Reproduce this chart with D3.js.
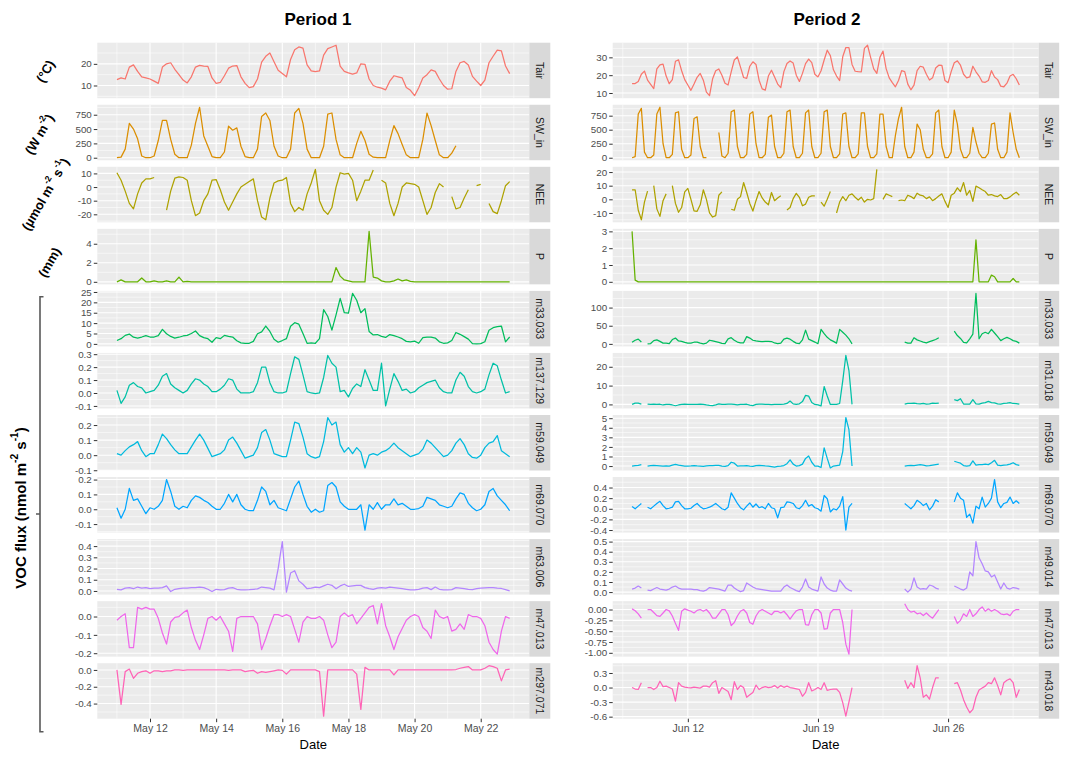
<!DOCTYPE html>
<html>
<head>
<meta charset="utf-8">
<script src="https://cdn.jsdelivr.net/npm/d3@7"></script>
<style>
  body { margin: 0; background: #fff; }
</style>
</head>
<body>
<div id="chart"></div>
<script>
const FONT = '"Liberation Sans", Arial, Helvetica, sans-serif';

// ---------------- data ----------------
// Period 1: 3-hourly values starting 11 May 00:00
const p1Vars = ["Tair", "SW_in", "NEE", "P", "m33.033", "m137.129", "m59.049", "m69.070", "m63.006", "m47.013", "m297.071"];

const p1Tair = [
  12.7, 13.5, 13.0, 18.5, 19.5, 16.5, 14.0, 13.5,
  13.0, 12.0, 11.0, 18.5, 20.0, 20.5, 17.5, 15.0,
  12.5, 11.2, 14.0, 18.5, 19.3, 19.0, 18.8, 13.5,
  11.0, 11.4, 14.5, 18.0, 19.0, 19.2, 14.0, 11.0,
  9.0, 9.5, 13.0, 20.8, 23.5, 25.0, 21.0, 17.0,
  15.5, 14.0, 22.0, 26.5, 27.8, 27.3, 19.5, 16.8,
  16.4, 16.7, 24.0, 27.0, 27.8, 28.6, 19.0, 16.5,
  15.8, 15.3, 15.8, 20.0, 19.8, 13.0, 10.0, 9.2,
  8.8, 8.0, 12.0, 14.5, 14.0, 13.5, 9.1, 7.8,
  5.3, 9.0, 13.5, 15.0, 17.2, 16.5, 13.0, 10.0,
  8.3, 8.5, 16.5, 20.5, 21.1, 19.5, 14.2, 12.0,
  10.0, 12.5, 20.5, 23.5, 26.3, 26.0, 19.0, 15.5
];
const p1SW = [
  0, 10, 150, 600, 500, 330, 30, 0,
  0, 30, 300, 650, 650, 320, 60, 0,
  0, 0, 220, 600, 880, 380, 200, 20,
  0, 0, 100, 550, 480, 520, 200, 20,
  0, 0, 150, 720, 780, 650, 200, 30,
  0, 0, 150, 780, 860, 600, 150, 0,
  0, 0, 200, 760, 780, 320, 50, 0,
  0, 0, 250, 460, 300, 60, 10, 0,
  0, 0, 300, 560, 420, 230, 50, 0,
  0, 0, 320, 780, 560, 300, 50, 0,
  0, 80, 210, null, null, null, null, null,
  null, null, null, null, null, null, null, null
];
const p1NEE = [
  10.5, 5, -3, -12, -16, -5, 3, 6,
  6, 7, null, null, -17, -3, 6.5, 7.5,
  7, 5, -10, -21, -19, -10, -5, 5,
  5.5, -2, -11, -17, -11, -5, 0, 2,
  4, 6, -10, -22, -24, -8, 3, 4.5,
  5, 7, -12, -18, -15, -17, -5, 3,
  13, -10, -17, -20, -15, 0, 10.5, 9.5,
  10, 5, -10, -3, 5, 5, 12.5, null,
  5, 3, -12, -21, -12, 0, 3, 2.5,
  2, 0, -10, -20, -15, -4, 2.5, 0,
  null, -7, -16, -15, -8, -2, null, 1,
  2, null, -12, -18, -19.5, -10, 1, 4
];
const p1P = [
  0, 0.2, 0, 0, 0, 0, 0.4, 0,
  0, 0.1, 0, 0, 0.1, 0, 0, 0.5,
  0, 0.05, 0, 0, 0, 0, 0, 0,
  0, 0, 0, 0, 0, 0, 0, 0,
  0, 0, 0, 0, 0, 0, 0, 0,
  0, 0, 0, 0, 0, 0, 0, 0,
  0, 0, 0, 0, 0, 1.5, 0.6, 0.2,
  0.1, 0, 0, 0, 0, 5.3, 0.5, 0.4,
  0.1, 0, 0, 0.1, 0.3, 0.1, 0.2, 0.05,
  0, 0, 0, 0, 0, 0, 0, 0,
  0, 0, 0, 0, 0, 0, 0, 0,
  0, 0, 0, 0, 0, 0, 0, 0
];
const p1m33 = [
  1.6, 2.5, 4.1, 4.7, 3.2, 2.8, 3.3, 4.0,
  3.3, 3.3, 4.0, 7.0, 4.9, 3.6, 2.8, 3.2,
  3.8, 4.1, 5.0, 6.2, 4.0, 3.0, 2.5, 0.8,
  3.0, 2.5, 4.1, 3.6, 3.3, 1.5, 0.5, 0.3,
  0.3, 1.2, 4.9, 5.8, 8.6, 6.0, 2.2, 0.8,
  1.6, 2.5, 8.5, 10.2, 9.5, 5.0, 0.3, 0.5,
  0.3, 2.5, 16.5, 13.2, 6.6, 14.0, 21.9, 15.0,
  14.8, 24.3, 21.0, 15.0, 17.0, 6.0, 4.3, 4.5,
  3.6, 3.1, 4.5, 4.0, 3.3, 2.5, 1.2, 1.0,
  1.3, 0.3, 3.0, 3.3, 3.3, 2.8, 1.0, 0.3,
  0.5, 1.6, 5.5, 4.6, 3.5, 2.3, 0.1, 0,
  0.1, 1.0, 6.6, 7.8, 8.3, 8.6, 1.0, 3.3
];
const p1m137 = [
  0.02, -0.08, -0.03, 0.06, 0.08, 0.05, 0.04, 0.0,
  0.01, 0.02, 0.06, 0.13, 0.15, 0.07, 0.04, 0.02,
  0.0, 0.02, 0.07, 0.11, 0.10, 0.07, 0.05, 0.01,
  0.01, 0.03, 0.06, 0.11, 0.10, 0.03, 0.0, 0.0,
  0.0, 0.01, 0.08, 0.20, 0.20, 0.08, 0.01, 0.0,
  0.0, 0.01, 0.15, 0.28, 0.26, 0.14, 0.01, 0.0,
  -0.005, 0.0, 0.12, 0.29, 0.23, 0.20, 0.01, 0.02,
  -0.03, 0.035, 0.07, 0.05, 0.18, 0.1, 0.02, 0.02,
  0.23, -0.1, 0.03, 0.15, 0.09, 0.02, 0.03, 0.0,
  0.01, 0.04, 0.06, 0.08, 0.09, 0.1, 0.04, 0.01,
  0.0, 0.0, 0.1, 0.16, 0.13, 0.05, 0.01, 0.0,
  0.01, 0.03, 0.14, 0.23, 0.21, 0.1, 0.0, 0.01
];
const p1m59 = [
  0.01, 0.0, 0.03, 0.055, 0.07, 0.09, 0.03, -0.01,
  0.01, 0.01, 0.07, 0.14, 0.11, 0.07, 0.035, 0.01,
  0.01, 0.01, 0.055, 0.1, 0.14, 0.1, 0.045, -0.01,
  0.0, 0.01, 0.035, 0.1, 0.12, 0.08, 0.03, -0.02,
  -0.01, 0.0, 0.05, 0.15, 0.17, 0.1, 0.01, 0.0,
  -0.01, -0.01, 0.1, 0.22, 0.21, 0.12, 0.01, -0.01,
  -0.02, -0.01, 0.09, 0.25, 0.2, 0.22, 0.07, 0.02,
  0.05, 0.01, 0.05, 0.02, -0.085, 0.0, 0.01, 0.0,
  0.02, 0.03, 0.05, 0.08, 0.05, 0.03, 0.01, -0.01,
  0.0, 0.01, 0.04, 0.1, 0.08, 0.05, 0.02, -0.01,
  0.0, 0.03, 0.08, 0.11, 0.07, 0.01, -0.015, -0.02,
  0.0, 0.05, 0.08, 0.09, 0.13, 0.03, 0.01, -0.01
];
const p1m69 = [
  0.01, -0.06, 0.0, 0.14, 0.06, 0.07, 0.02, -0.03,
  0.01, 0.0, 0.02, 0.06, 0.2, 0.12, 0.02, 0.0,
  0.02, 0.01, 0.06, 0.09, 0.08, 0.06, 0.045, 0.02,
  0.0, 0.0, 0.04, 0.1, 0.05, 0.1, 0.03, 0.0,
  -0.01, -0.01, 0.06, 0.15, 0.12, 0.03, 0.06, 0.01,
  0.0, -0.01, 0.07, 0.15, 0.19, 0.1, 0.02, -0.02,
  0.0, -0.02, -0.01, 0.16, 0.18, 0.15, 0.05, 0.02,
  0.0, 0.0, 0.0, 0.03, -0.14, 0.03, 0.0, 0.045,
  0.0, 0.03, 0.03, 0.07, 0.03, 0.04, 0.02, 0.0,
  0.0, 0.005, 0.02, 0.08, 0.07, 0.06, 0.03, 0.02,
  0.01, 0.02, 0.07, 0.11, 0.1, 0.04, 0.01, -0.01,
  0.0, 0.03, 0.12, 0.14, 0.09, 0.06, 0.03, -0.01
];
const p1m63 = [
  0.015, 0.01, 0.025, 0.03, 0.02, 0.035, 0.025, 0.03,
  0.02, 0.025, 0.025, 0.03, 0.045, -0.005, 0.015, 0.02,
  0.025, 0.025, 0.03, 0.03, 0.035, 0.03, 0.015, -0.005,
  0.015, 0.01, 0.012, 0.025, 0.03, 0.015, 0.01, 0.01,
  0.012, 0.015, 0.018, 0.035, 0.03, 0.025, 0.01, 0.2,
  0.44, -0.01, 0.16, 0.18, 0.09, 0.06, 0.02, 0.025,
  0.035, 0.03, 0.045, 0.06, 0.05, 0.02, 0.045, 0.06,
  0.04, 0.045, 0.05, 0.05, 0.03, 0.02, 0.015, 0.025,
  0.03, 0.025, 0.035, 0.03, 0.025, 0.02, 0.015, 0.01,
  0.01, 0.015, 0.025, 0.03, 0.012, 0.035, 0.015, 0.01,
  0.01, 0.012, 0.03, 0.025, 0.02, 0.015, 0.012, 0.02,
  0.025, 0.028, 0.03, 0.03, 0.025, 0.022, 0.012, 0.0
];
const p1m47 = [
  -0.02, 0.0, 0.015, -0.17, -0.17, 0.05, 0.04, 0.05,
  0.04, 0.04, -0.01, -0.09, -0.15, -0.03, -0.005, 0.0,
  0.02, 0.035, -0.06, -0.13, -0.18, -0.1, -0.01, 0.0,
  -0.02, 0.0, -0.04, -0.08, -0.19, -0.01, 0.0, 0.0,
  0.0, 0.0, -0.04, -0.18, -0.12, -0.05, 0.01, 0.01,
  0.0, 0.01, 0.0, -0.07, -0.14, -0.03, 0.0, -0.01,
  -0.01, 0.0, -0.02, -0.1, -0.17, -0.14, 0.0, 0.02,
  0.0, 0.01, -0.04, -0.01, 0.02, 0.05, 0.06, -0.04,
  0.07, -0.05, -0.11, -0.18, -0.11, -0.065, -0.02, 0.0,
  0.01, 0.0, -0.06, -0.08, -0.12, 0.035, 0.0, -0.01,
  0.0, -0.08, -0.07, -0.04, -0.07, 0.01, 0.0, 0.0,
  -0.01, -0.05, -0.14, -0.18, -0.205, -0.08, 0.0, -0.01
];
const p1m297 = [
  0.0, -0.41, -0.02, 0.01, -0.1, -0.04, -0.02, -0.01,
  -0.04, -0.01, -0.01, -0.02, -0.01, -0.01, 0.0, 0.0,
  -0.005, 0, 0, 0, 0, 0, 0, 0,
  0, 0, 0, -0.005, 0, 0, 0, -0.02,
  -0.01, -0.005, -0.04, -0.02, -0.03, -0.02, -0.01, 0.0,
  -0.005, -0.05, 0.0, 0, 0, 0, 0, 0,
  0, -0.02, -0.55, 0.0, 0, 0, 0, 0,
  0, 0, -0.05, -0.47, 0.03, 0.0, 0, 0,
  0, 0, 0, -0.06, 0, 0, 0, 0,
  0, 0, 0, 0, 0, 0, 0, 0,
  0, 0, 0.005, 0.02, 0.03, 0.04, 0.0, 0.0,
  0.0, 0.02, 0.05, 0.04, 0.02, -0.13, 0.0, 0.01
];

// Period 2: 4-hourly values starting 9 June 00:00
const p2Vars = ["Tair", "SW_in", "NEE", "P", "m33.033", "m31.018", "m59.049", "m69.070", "m49.014", "m47.013", "m43.018"];

const p2Tair = [
  15.3, 15.3, 16.5, 20.5, 22.3, 17.2,
  14.8, 12.5, 23.5, 25.8, 26.2, 19.5,
  15.2, 17.5, 27.8, 28.6, 22.5, 17.5,
  14.5, 11.5, 15.0, 18.8, 21.0, 17.2,
  10.5, 8.5, 18.0, 22.5, 23.5, 20.0,
  15.5, 14.5, 21.9, 28.5, 30.3, 24.5,
  18.7, 18.2, 25.0, 27.5, 26.0, 17.2,
  12.3, 11.6, 19.5, 22.8, 19.0, 15.0,
  13.0, 22.0, 26.5, 28.0, 26.8, 20.0,
  16.5, 21.0, 26.5, 29.0, 27.0, 20.5,
  19.0, 22.5, 28.5, 34.0, 31.0, 23.0,
  19.5, 17.0, 30.3, 35.5, 35.5, 26.0,
  22.2, 22.0, 21.9, 35.0, 36.8, 30.0,
  23.5, 21.0, 30.0, 33.5, 23.7, 18.5,
  15.8, 13.5, 17.0, 22.5, 22.0, 15.0,
  11.8, 14.4, 22.5, 25.0, 24.5, 20.5,
  17.3, 18.5, 24.0, 25.6, 25.5, 17.0,
  15.8, 22.0, 27.0, 28.0, 25.6, 20.5,
  18.5, 19.0, 25.0, 21.9, 19.5, 16.3,
  16.0, 17.0, 22.5, 19.0, 17.5, 13.8,
  13.5, 15.5, 19.5, 20.5, 18.0, 14.5
];
const p2SW = [
  0, 20, 780, 880, 100, 0,
  0, 50, 780, 900, 250, 0,
  0, 60, 800, 820, 150, 0,
  0, 50, 700, 730, 200, 0,
  0, null, null, null, 450, 30,
  0, 80, 820, 850, 200, 0,
  0, 60, 780, 820, 250, 0,
  0, 60, 720, 760, 200, 0,
  0, 80, 820, 850, 200, 0,
  0, 80, 800, 850, 200, 0,
  0, 80, 820, 850, 200, 0,
  0, 70, 780, 800, 200, 0,
  0, 70, 800, 800, 200, 0,
  0, 70, 780, 780, 200, 0,
  0, 400, 700, 900, 200, 0,
  0, 100, 600, 500, 150, 0,
  0, 70, 800, 850, 200, 0,
  0, 100, 850, 600, 150, 0,
  0, 80, 540, 280, 80, 0,
  0, 80, 600, 620, 150, 0,
  0, 100, 800, 450, 150, 0
];
const p2NEE = [
  7, 7, -8, -15, -2, 6,
  null, 10, -7, -12.5, -1, 4,
  null, 10, -3, -9.5, -6, 5.5,
  8, 0, -8.5, -8.8, -4, 7,
  0, -10, -13, -12, 3, 5.5,
  null, null, -7.3, -8, 0, 2,
  12.3, 5, -3, -8.6, -1, 5.7,
  1, -2, -4, 5, -1, 1,
  2.6, null, -7.8, -6, 0.5, 4.4,
  1.5, -4.7, -3.5, 1.5, 2.5, 2.6,
  null, -2, -5, 0, 5.7, null,
  -10, -2, 2, -1, 3, 4,
  1.5, -0.5, 1.5, -2, 0, -0.5,
  0.5, 22, null, 0, 4, 3,
  2, null, -1, -0.5, -1, 3,
  2, 0.5, 4.5, 3, 2.5, 0.5,
  1.8, -1, 0.5, 2.5, 4, -1.5,
  -6, 3, 4.5, 8.4, 5.7, 12.3,
  3, 6.5, -1.5, 9.7, 8.5, 7,
  5.7, 3, 3.5, 2.5, 2, 3.5,
  0.5, 0.5, 1.8, 3.7, 5.2, 3
];
const p2P = [
  3.0, 0.1, 0, 0, 0, 0,
  0, 0, 0, 0, 0, 0,
  0, 0, 0, 0, 0, 0,
  0, 0, 0, 0, 0, 0,
  0, 0, 0, 0, 0, 0,
  0, 0, 0, 0, 0, 0,
  0, 0, 0, 0, 0, 0,
  0, 0, 0, 0, 0, 0,
  0, 0, 0, 0, 0, 0,
  0, 0, 0, 0, 0, 0,
  0, 0, 0, 0, 0, 0,
  0, 0, 0, 0, 0, 0,
  0, 0, 0, 0, 0, 0,
  0, 0, 0, 0, 0, 0,
  0, 0, 0, 0, 0, 0,
  0, 0, 0, 0, 0, 0,
  0, 0, 0, 0, 0, 0,
  0, 0, 0, 0, 0, 0,
  0, 0, 0, 2.5, 0, 0,
  0, 0, 0.4, 0.3, 0, 0,
  0, 0, 0, 0.2, 0, 0
];
const p2m33 = [
  4.6, 10, 13, 5, null, 0,
  1, 9, 11, 7, 2, 2,
  0.5, 12, 16, 8, 7, 4,
  2, 2, 4.5, 5, 2, 0,
  2, 10, 8, 6, 4, 1.5,
  0.5, 14, 17, 10, 5, 2.5,
  3, 20, 16, 10, 8, 7,
  6, 7, 7, 6.5, 2.5, 0.5,
  2, 13, 16, 13, 7, 2,
  0.5, 11, 38, 13, 9, 5,
  0.5, 40, 28, 18, 11, 7,
  2, 40, 32, 24, 14, 0,
  null, null, null, null, null, null,
  null, null, null, null, null, null,
  null, null, null, null, 5, 2,
  2, 17, 11, 8, 5, 3,
  6, 9, 12, 17, null, null,
  null, null, 35, 23, 15, 4,
  3, 14, 27, 139, 14, 28,
  32, 28, 40, 30, 20, 9,
  14, 18, 14, 9, 7, 2
];
const p2m31 = [
  0, 0.7, 0.7, 0.2, null, 0.2,
  0, 0.2, 0, 0.1, -0.3, 0,
  0, -0.3, -0.7, -0.3, 0, 0.1,
  0, 0, 0, 0, 0.2, 0,
  -0.3, -0.5, -0.6, -0.2, 0.3, 0,
  0, 0.2, 0.2, 0, -0.3, 0,
  0, 0.1, -0.4, -0.6, 0, 0.2,
  0.1, 0, 0, -0.1, 0, 0,
  0, 0.2, 0.5, 1.8, 0.3, 0,
  0.3, 1.5, 4.8, 4.4, 1.0, 0,
  -0.2, -0.8, 9.5, 4.5, 0, 0,
  0, 0.5, 12.5, 26, 18, 0,
  null, null, null, null, null, null,
  null, null, null, null, null, null,
  null, null, null, null, 0.2, 0.5,
  0.6, 0.7, 0.4, 0.3, 0.5, 0.2,
  0.3, 0.7, 0.5, 0.7, null, null,
  null, null, 2.5, 2, 3, 0.2,
  0.1, 0.2, 2.5, 0.3, 0.2, 0.7,
  1.0, 1.6, 1.0, 0.8, 0.3, 0.2,
  0.5, 0.7, 1.0, 0.5, 0.4, 0.1
];
const p2m59 = [
  0, 0.05, 0.08, 0.15, null, 0,
  0.05, 0.07, 0.05, 0.03, 0, 0.02,
  0, 0.1, 0.18, 0.1, 0.05, 0,
  0, 0.02, 0.05, 0.02, 0, -0.03,
  0.03, 0.05, 0.05, 0.08, 0.07, 0,
  -0.03, 0.05, 0.4, 0.3, 0, 0.02,
  0.03, 0.04, 0, -0.03, 0.05, 0.07,
  0.05, 0.02, 0, -0.05, -0.1, -0.03,
  0, 0.05, 0.25, 0.65, 0.2, 0,
  0.05, 0.2, 0.8, 1.05, 0.4, 0,
  0, -0.15, 1.9, 0.8, -0.2, 0,
  0.05, 0.1, 1.5, 5.07, 3.8, 0,
  null, null, null, null, null, null,
  null, null, null, null, null, null,
  null, null, null, null, 0, 0.05,
  0.08, 0.05, 0.1, 0.15, 0.1, 0.03,
  0.05, 0.1, 0.15, 0.2, null, null,
  null, null, 0.5, 0.4, 0.3, 0.05,
  0, 0.05, 0.55, 0.1, 0.15, 0.15,
  0.2, 0.15, 0.35, 0.6, 0.1, 0.05,
  0.1, 0.12, 0.2, 0.35, 0.15, 0.08
];
const p2m69 = [
  0.045, 0.0, 0.05, 0.1, null, 0.03,
  0.0, 0.05, 0.1, 0.14, 0.06, 0.0,
  0.01, 0.03, 0.13, 0.14, 0.06, 0.0,
  0.0, 0.01, 0.06, 0.1, 0.04, 0.0,
  0.01, 0.03, 0.06, 0.1, 0.05, 0.0,
  -0.02, 0.03, 0.3, 0.2, 0.1, 0.02,
  -0.02, 0.05, 0.11, 0.03, 0.09, 0.02,
  0.04, 0.0, 0.1, 0.02, 0.0, -0.17,
  0.02, 0.03, 0.13, 0.12, 0.1, 0.02,
  0.0, 0.06, 0.16, 0.05, 0.08, 0.02,
  0.0, -0.045, 0.25, 0.19, -0.06, 0.0,
  -0.02, 0.05, 0.23, -0.4, 0.03, 0.1,
  null, null, null, null, null, null,
  null, null, null, null, null, null,
  null, null, null, null, 0.1, 0.05,
  0.0, 0.06, 0.16, 0.12, 0.06, 0.1,
  -0.02, 0.05, 0.17, 0.13, null, null,
  null, null, 0.13, 0.3, 0.2, 0.16,
  -0.16, -0.1, -0.27, 0.05, 0.0, 0.22,
  0.03, 0.1, 0.2, 0.55, 0.13, 0.02,
  0.1, 0.12, 0.22, 0.1, 0.15, 0.1
];
const p2m49 = [
  0.03, 0.04, 0.06, 0.04, null, 0.02,
  0.015, 0.03, 0.045, 0.03, 0.025, 0.02,
  0.03, 0.05, 0.06, 0.04, 0.03, 0.03,
  0.03, 0.03, 0.025, 0.025, 0.015, 0.01,
  0.02, 0.045, 0.04, 0.035, 0.03, 0.02,
  0.01, 0.07, 0.07, 0.04, 0.02, 0.005,
  0.015, 0.09, 0.07, 0.05, 0.035, 0.03,
  0.025, 0.02, 0.015, 0.01, 0.01, 0.01,
  0.01, 0.05, 0.07, 0.045, 0.03, 0.015,
  0.005, 0.05, 0.13, 0.05, 0.03, 0.02,
  0.01, 0.15, 0.08, 0.04, 0.02, 0.01,
  0.01, 0.12, 0.08, 0.04, 0.02, 0.01,
  null, null, null, null, null, null,
  null, null, null, null, null, null,
  null, null, null, null, 0.03, 0.0,
  0.03, 0.14, 0.05, 0.03, 0.035, 0.03,
  0.07, 0.06, 0.04, 0.03, null, null,
  null, null, 0.06, 0.045, 0.03, 0.02,
  0.04, 0.2, 0.16, 0.5, 0.34, 0.28,
  0.21, 0.2, 0.15, 0.17, 0.1, 0.03,
  0.09, 0.04, 0.03, 0.045, 0.04, 0.03
];
const p2m47 = [
  0.015, -0.03, -0.1, -0.2, null, 0.0,
  0.0, -0.07, -0.14, -0.16, -0.08, 0.0,
  -0.03, -0.15, -0.32, -0.48, -0.04, 0.015,
  -0.015, -0.04, -0.08, -0.02, 0.0, -0.04,
  0.0, -0.08, -0.2, -0.2, -0.1, 0.0,
  0.0, -0.12, -0.37, -0.3, -0.15, -0.04,
  0.0, -0.08, -0.3, -0.34, -0.15, -0.04,
  0.0, -0.04, -0.08, -0.12, -0.04, -0.04,
  -0.08, -0.04, -0.12, -0.22, -0.12, -0.03,
  0.0, 0.0, -0.35, -0.36, -0.12, 0.0,
  0.0, -0.08, -0.45, -0.44, -0.08, 0.0,
  0.0, 0.0, -0.3, -0.8, -1.03, 0.0,
  null, null, null, null, null, null,
  null, null, null, null, null, null,
  null, null, null, null, 0.135, 0.0,
  -0.06, -0.04, -0.1, -0.08, -0.14, -0.08,
  -0.15, -0.2, -0.1, 0.0, null, null,
  null, null, -0.16, -0.32, -0.25, -0.1,
  -0.16, 0.0, -0.16, -0.1, 0.0, 0.06,
  -0.04, 0.015, -0.04, 0.0, -0.04, -0.1,
  -0.12, -0.1, -0.14, -0.04, 0.0, 0.0
];
const p2m43 = [
  0.0, -0.03, -0.04, 0.1, null, 0.0,
  0.0, -0.04, 0.0, 0.13, 0.02, 0.03,
  0.0, -0.03, -0.28, 0.1, 0.03, 0.01,
  0.0, -0.005, 0.01, 0.0, -0.01, 0.03,
  0.03, 0.01, 0.1, 0.14, -0.12, 0.0,
  -0.04, -0.08, -0.25, 0.12, -0.04, 0.04,
  0.0, -0.2, -0.15, -0.1, 0.05, -0.04,
  0.0, 0.02, 0.0, 0.01, 0.04, -0.01,
  0.04, 0.005, 0.03, 0.0, -0.01, -0.025,
  -0.04, -0.18, -0.1, 0.1, -0.07, -0.04,
  0.0, -0.04, 0.1, -0.06, -0.04, -0.03,
  -0.03, -0.1, -0.31, -0.59, -0.3, 0.0,
  null, null, null, null, null, null,
  null, null, null, null, null, null,
  null, null, null, null, 0.15, -0.02,
  0.1, 0.0, 0.45, 0.2, -0.2, -0.15,
  -0.24, 0.0, 0.2, 0.2, null, null,
  null, null, 0.08, 0.1, -0.05, -0.25,
  -0.4, -0.52, -0.45, -0.2, -0.05, -0.01,
  0.03, 0.1, 0.08, 0.2, 0.04, -0.15,
  0.1, 0.15, 0.18, 0.1, -0.2, -0.04
];

// y tick values and decimals per facet
const p1Ticks = [[10, 20], [0, 250, 500, 750], [-20, -10, 0, 10], [0, 2, 4], [0, 5, 10, 15, 20, 25],
  [-0.1, 0, 0.1, 0.2, 0.3], [-0.1, 0, 0.1, 0.2], [-0.1, 0, 0.1, 0.2], [0, 0.1, 0.2, 0.3, 0.4],
  [-0.2, -0.1, 0], [-0.4, -0.2, 0]];
const p1Dec = [0, 0, 0, 0, 0, 1, 1, 1, 1, 1, 1];
const p2Ticks = [[10, 20, 30], [0, 250, 500, 750], [-10, 0, 10, 20], [0, 1, 2, 3], [0, 50, 100], [0, 10, 20],
  [0, 1, 2, 3, 4, 5], [-0.4, -0.2, 0, 0.2, 0.4], [0, 0.1, 0.2, 0.3, 0.4, 0.5],
  [-1, -0.75, -0.5, -0.25, 0], [-0.6, -0.3, 0, 0.3]];
const p2Dec = [0, 0, 0, 0, 0, 0, 0, 1, 1, 2, 1];

// x tick dates
const p1DateTicks = ["2019-05-12", "2019-05-14", "2019-05-16", "2019-05-18", "2019-05-20", "2019-05-22"];
const p2DateTicks = ["2019-06-12", "2019-06-19", "2019-06-26"];

// ggplot hue palette, 11 levels
const palette = ["#F8766D", "#DB8E00", "#AEA200", "#64B200", "#00BD5C", "#00C1A7", "#00BADE", "#00A6FF", "#B385FF", "#EF67EB", "#FF63B6"];

// ---------------- layout ----------------
const rowTop = 42.7;
const rowH = 55.5;
const rowPitch = 62.05;
const tickFont = 9.8;
const parseDay = d3.timeParse("%Y-%m-%d");

const columns = [
  {
    title: "Period 1", titleX: 318, left: 97.3, width: 432, stripW: 21,
    start: new Date(2019, 4, 11, 0), stepH: 3,
    vars: p1Vars,
    series: [p1Tair, p1SW, p1NEE, p1P, p1m33, p1m137, p1m59, p1m69, p1m63, p1m47, p1m297],
    ticks: p1Ticks, dec: p1Dec, dateTicks: p1DateTicks
  },
  {
    title: "Period 2", titleX: 827, left: 612.7, width: 426, stripW: 20.5,
    start: new Date(2019, 5, 9, 0), stepH: 4,
    vars: p2Vars,
    series: [p2Tair, p2SW, p2NEE, p2P, p2m33, p2m31, p2m59, p2m69, p2m49, p2m47, p2m43],
    ticks: p2Ticks, dec: p2Dec, dateTicks: p2DateTicks
  }
];

const svg = d3.select("#chart").append("svg")
  .attr("width", 1073)
  .attr("height", 760)
  .style("font-family", FONT);

// minor breaks half way between major breaks, kept inside the domain
function minorBreaks(major, domain) {
  const step = major[1] - major[0];
  const out = [major[0] - step / 2];
  major.forEach(m => out.push(m + step / 2));
  return out.filter(v => v >= domain[0] && v <= domain[1]);
}

function styleAxis(g) {
  g.select(".domain").remove();
  g.selectAll(".tick line").attr("stroke", "#333333").attr("stroke-width", 1);
  g.selectAll(".tick text")
    .attr("fill", "#4D4D4D")
    .style("font-size", tickFont + "px")
    .style("font-family", FONT);
}

function drawColumn(col) {
  const n = col.series[0].length;
  const time = i => new Date(col.start.getTime() + i * col.stepH * 3600e3);
  const t0 = time(0), t1 = time(n - 1);
  const pad = (t1 - t0) * 0.05;

  const x = d3.scaleTime()
    .domain([new Date(+t0 - pad), new Date(+t1 + pad)])
    .range([col.left, col.left + col.width]);

  const xMajor = col.dateTicks.map(parseDay);
  const xMinor = minorBreaks(xMajor.map(Number), x.domain().map(Number)).map(v => new Date(v));

  col.vars.forEach((name, r) => {
    const top = rowTop + r * rowPitch;
    const values = col.series[r];
    const ext = d3.extent(values.filter(v => v != null));
    const span = ext[1] - ext[0];
    const y = d3.scaleLinear()
      .domain([ext[0] - span * 0.05, ext[1] + span * 0.05])
      .range([top + rowH, top]);
    const yMajor = col.ticks[r];
    const yMinor = minorBreaks(yMajor, y.domain());

    const g = svg.append("g").attr("class", "facet");

    // panel background
    g.append("rect")
      .attr("x", col.left).attr("y", top)
      .attr("width", col.width).attr("height", rowH)
      .attr("fill", "#EBEBEB");

    // grid
    g.selectAll(".gy-minor").data(yMinor).join("line")
      .attr("x1", col.left).attr("x2", col.left + col.width)
      .attr("y1", d => y(d)).attr("y2", d => y(d))
      .attr("stroke", "#fff").attr("stroke-width", 0.55);
    g.selectAll(".gx-minor").data(xMinor).join("line")
      .attr("x1", d => x(d)).attr("x2", d => x(d))
      .attr("y1", top).attr("y2", top + rowH)
      .attr("stroke", "#fff").attr("stroke-width", 0.55);
    g.selectAll(".gy-major").data(yMajor).join("line")
      .attr("x1", col.left).attr("x2", col.left + col.width)
      .attr("y1", d => y(d)).attr("y2", d => y(d))
      .attr("stroke", "#fff").attr("stroke-width", 1.1);
    g.selectAll(".gx-major").data(xMajor).join("line")
      .attr("x1", d => x(d)).attr("x2", d => x(d))
      .attr("y1", top).attr("y2", top + rowH)
      .attr("stroke", "#fff").attr("stroke-width", 1.1);

    // series line
    const line = d3.line()
      .defined(d => d != null)
      .x((d, i) => x(time(i)))
      .y(d => y(d));
    g.append("path")
      .datum(values)
      .attr("d", line)
      .attr("fill", "none")
      .attr("stroke", palette[r])
      .attr("stroke-width", 1.25)
      .attr("stroke-linejoin", "round");

    // strip on the right
    g.append("rect")
      .attr("x", col.left + col.width).attr("y", top)
      .attr("width", col.stripW).attr("height", rowH)
      .attr("fill", "#D9D9D9");
    g.append("text")
      .attr("transform", `translate(${col.left + col.width + col.stripW / 2},${top + rowH / 2}) rotate(90)`)
      .attr("text-anchor", "middle")
      .attr("dominant-baseline", "central")
      .attr("fill", "#1A1A1A")
      .style("font-size", "10.5px")
      .text(name);

    // y axis
    const fmt = d3.format(`.${col.dec[r]}f`);
    const yAxis = g.append("g")
      .attr("transform", `translate(${col.left},0)`)
      .call(d3.axisLeft(y).tickValues(yMajor)
        .tickFormat(v => fmt(v).replace("\u2212", "-"))
        .tickSize(3.5).tickPadding(2));
    styleAxis(yAxis);

    // x axis under the last facet
    if (r === col.vars.length - 1) {
      const xAxis = g.append("g")
        .attr("transform", `translate(0,${top + rowH})`)
        .call(d3.axisBottom(x).tickValues(xMajor)
          .tickFormat(d3.timeFormat("%b %d"))
          .tickSize(3.5).tickPadding(2.5));
      styleAxis(xAxis);
      xAxis.selectAll(".tick text").style("font-size", "10.5px");

      svg.append("text")
        .attr("x", col.left + col.width / 2)
        .attr("y", 749)
        .attr("text-anchor", "middle")
        .attr("fill", "#000")
        .style("font-size", "13px")
        .text("Date");
    }
  });

  // column title
  svg.append("text")
    .attr("x", col.titleX)
    .attr("y", 25)
    .attr("text-anchor", "middle")
    .attr("fill", "#000")
    .style("font-size", "17px")
    .style("font-weight", "bold")
    .text(col.title);
}

columns.forEach(drawColumn);

// ---------------- unit labels on the left ----------------
// parts: plain strings or {sup: "..."}
function richLabel(cx, cy, angle, size, parts) {
  const t = svg.append("text")
    .attr("transform", `translate(${cx},${cy}) rotate(${angle})`)
    .attr("text-anchor", "middle")
    .attr("dominant-baseline", "central")
    .attr("fill", "#000")
    .style("font-size", size + "px")
    .style("font-weight", "bold");
  let raised = false;
  parts.forEach(p => {
    if (typeof p === "string") {
      t.append("tspan").attr("dy", raised ? size * 0.38 : 0).text(p);
      raised = false;
    } else {
      t.append("tspan").attr("dy", raised ? 0 : -size * 0.38)
        .style("font-size", (size * 0.68) + "px").text(p.sup);
      raised = true;
    }
  });
  return t;
}

richLabel(45, 71, -60, 13, ["(°C)"]);
richLabel(39, 134, -60, 13, ["(W m", { sup: "-2" }, ")"]);
richLabel(45, 194, -60, 13, ["(µmol m", { sup: "-2" }, " s", { sup: "-1" }, ")"]);
richLabel(49, 262, -60, 13, ["(mm)"]);
richLabel(20, 508, -90, 15, ["VOC flux (nmol m", { sup: "-2" }, " s", { sup: "-1" }, ")"]);

// bracket spanning the VOC facets
svg.append("path")
  .attr("d", "M43.5,296.7 H40 V731.7 H43.5 M40,514 H36")
  .attr("fill", "none")
  .attr("stroke", "#595959")
  .attr("stroke-width", 1.6);
</script>
</body>
</html>
